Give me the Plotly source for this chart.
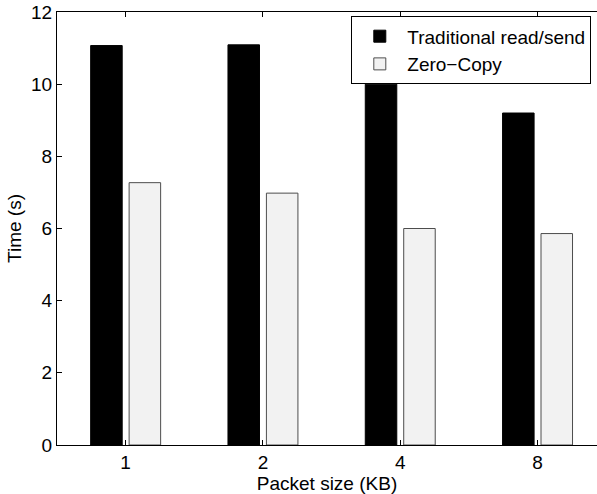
import plotly.graph_objects as go

categories = ["1", "2", "4", "8"]
positions = [1, 2, 3, 4]
traditional = [11.07, 11.09, 10.0, 9.2]
zero_copy = [7.27, 6.98, 6.0, 5.86]
y_ticks = [0, 2, 4, 6, 8, 10, 12]

FONT = "Liberation Sans, Arial, Helvetica, sans-serif"
FS = 19

fig = go.Figure()
fig.add_trace(go.Bar(
    x=positions, y=traditional, name="Traditional read/send",
    marker=dict(color="#000000", line=dict(color="#000000", width=1)),
))
fig.add_trace(go.Bar(
    x=positions, y=zero_copy, name="Zero\u2212Copy",
    marker=dict(color="#f2f2f2", line=dict(color="#4d4d4d", width=1)),
))

fig.update_layout(
    width=597, height=494,
    margin=dict(l=57, r=0, t=12, b=49),
    paper_bgcolor="white", plot_bgcolor="white",
    font=dict(family=FONT, size=FS, color="black"),
    barmode="group", bargap=0.44, bargroupgap=0.18,
    showlegend=True,
    legend=dict(
        x=0.545, y=0.99, xanchor="left", yanchor="top",
        bordercolor="black", borderwidth=1, bgcolor="white",
        font=dict(family=FONT, size=FS, color="black"),
        tracegroupgap=0, itemwidth=45,
    ),
    xaxis=dict(
        range=[0.5, 4.433],
        tickmode="array", tickvals=positions, ticktext=categories,
        ticks="inside", ticklen=5, tickcolor="black",
        showline=True, linecolor="black", linewidth=1, mirror="ticks",
        showgrid=False, zeroline=False,
        title=dict(text="Packet size (KB)", standoff=1,
                   font=dict(family=FONT, size=FS)),
        tickfont=dict(family=FONT, size=FS),
    ),
    yaxis=dict(
        range=[0, 12],
        tickmode="array", tickvals=y_ticks,
        ticks="inside", ticklen=5, tickcolor="black",
        showline=True, linecolor="black", linewidth=1, mirror=False,
        showgrid=False, zeroline=False,
        title=dict(text="Time (s)", standoff=4,
                   font=dict(family=FONT, size=FS)),
        tickfont=dict(family=FONT, size=FS),
    ),
)

fig.write_html("out.html")
